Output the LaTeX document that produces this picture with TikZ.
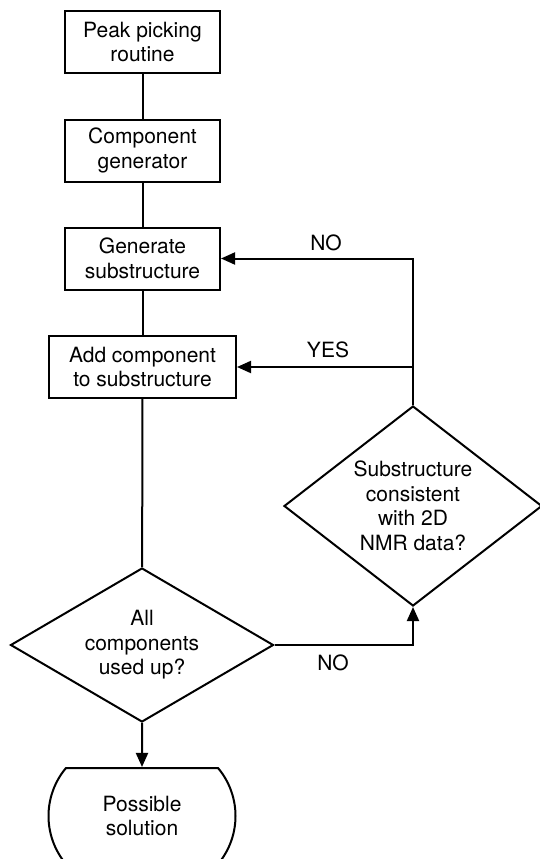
\documentclass[tikz,border=0pt]{standalone}
\usepackage{fontspec}
\setmainfont{TeX Gyre Heros}
\usetikzlibrary{shapes.geometric,shapes.misc,arrows.meta}
\begin{document}
\begin{tikzpicture}[x=1pt,y=-1pt,
  every node/.style={font=\fontsize{21}{24.5}\selectfont, align=center, inner sep=0pt},
  box/.style={draw, line width=2pt, minimum width=155pt, minimum height=62pt},
  decision/.style={draw, diamond, line width=2pt},
  terminal/.style={draw, rounded rectangle, rounded rectangle arc length=80,
    line width=2pt, minimum width=187pt, minimum height=96pt},
  link/.style={line width=2pt},
  flow/.style={line width=2pt, -{Triangle[length=14pt,width=12pt]}}]
  \useasboundingbox (0,0) rectangle (539,859);

  % process boxes
  \node[box] (peak) at (142.5,42) {Peak picking\\routine};
  \node[box] (gen) at (142.5,150.5) {Component\\generator};
  \node[box] (sub) at (142.5,258.5) {Generate\\substructure};
  \node[box, minimum width=187pt] (add) at (142.5,367) {Add component\\to substructure};

  % decisions
  \node[decision, aspect=1.71, minimum width=263pt, minimum height=154pt] (used) at (142,645)
    {All\\components\\used up?};
  \node[decision, aspect=1.29, minimum width=258pt, minimum height=200pt] (cons) at (413,506)
    {Substructure\\consistent\\with 2D\\NMR data?};

  % end state, running off the lower edge
  \node[terminal] (sol) at (142,816) {Possible\\solution};

  % main chain
  \draw[link] (peak) -- (gen);
  \draw[link] (gen) -- (sub);
  \draw[link] (sub) -- (add);
  \draw[link] (add) -- (used);
  \draw[flow] (used) -- (sol);

  % loop back
  \draw[flow] (used.east) -| (cons.south);
  \draw[flow] (cons.north) |- (sub.east);
  \coordinate (fork) at (cons.north |- add.east);
  \draw[flow] (fork) -- (add.east);

  % branch labels
  \node (no1) at (326,243) {NO};
  \node (yes) at (328,350) {YES};
  \node (no2) at (333,663) {NO};
\end{tikzpicture}
\end{document}
